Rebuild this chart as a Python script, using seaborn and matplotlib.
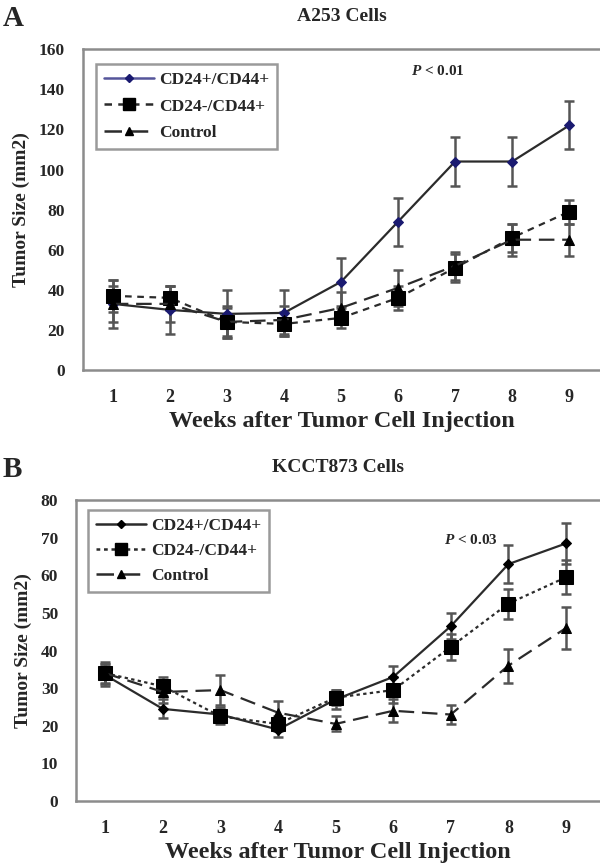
import numpy as np
import pandas as pd
import matplotlib
matplotlib.use("Agg")
import matplotlib.pyplot as plt
from matplotlib.lines import Line2D
import seaborn as sns

# Data
weeks = [1, 2, 3, 4, 5, 6, 7, 8, 9]
groups = ["CD24+/CD44+", "CD24-/CD44+", "Control"]

a253_pos = [33, 30, 28, 28.5, 44, 74, 104, 104, 122]
a253_pos_err = [12, 12, 12, 11.5, 12, 12, 12, 12, 12]
a253_neg = [37, 36, 24, 23, 26, 36, 51, 66, 79]
a253_neg_err = [8, 6, 7, 6, 5, 6, 7, 7, 6]
a253_ctrl = [33, 33, 24, 25, 31, 41, 52, 65, 65]
a253_ctrl_err = [9, 9, 8, 7, 8, 9, 7, 8, 8]

kcct_pos = [33.5, 24.5, 23, 19, 27, 33, 46.5, 63, 68.5]
kcct_pos_err = [3, 2.5, 2, 2, 2.5, 3, 3.5, 5, 5.5]
kcct_neg = [34, 30.5, 22.5, 20.5, 27.5, 29.5, 41, 52.5, 59.5]
kcct_neg_err = [2.5, 2.5, 2, 2, 2, 3.5, 3.5, 4, 4.5]
kcct_ctrl = [34, 29, 29.5, 23.5, 20.5, 24, 23, 36, 46]
kcct_ctrl_err = [3, 3, 4, 3, 2, 3, 2.5, 4.5, 5.5]

sns.set_style("white")
plt.rcParams["font.family"] = ["Liberation Serif", "DejaVu Serif"]
plt.rcParams["font.weight"] = "bold"
plt.rcParams["mathtext.fontset"] = "custom"
plt.rcParams["mathtext.it"] = "Liberation Serif:italic:bold"
plt.rcParams["mathtext.rm"] = "Liberation Serif:bold"

GRAY = "#8c8c8c"
MARKERS = {"CD24+/CD44+": "D", "CD24-/CD44+": "s", "Control": "^"}
MSIZES = {"CD24+/CD44+": 5, "CD24-/CD44+": 9.5, "Control": 7}


def draw_panel(ax, series, errs, dashes, pos_color, legend_line, ymax, ystep,
               xlim, title, pval, ptxt_xy, leg_anchor, leg_space):
    df = pd.DataFrame({
        "Week": weeks * 3,
        "Size": series[0] + series[1] + series[2],
        "Group": [g for g in groups for _ in weeks],
    })
    mcolors = {"CD24+/CD44+": pos_color, "CD24-/CD44+": "black", "Control": "black"}

    for g, vals, err in zip(groups, series, errs):
        ax.errorbar(weeks, vals, yerr=err, fmt="none", ecolor="#555555",
                    elinewidth=1.8, capsize=3.5, capthick=1.8, zorder=2)
        sub = df[df["Group"] == g]
        sns.lineplot(data=sub, x="Week", y="Size", ax=ax, color="#2b2b2b",
                     linewidth=1.6, marker=MARKERS[g], markersize=MSIZES[g],
                     markerfacecolor=mcolors[g], markeredgecolor=mcolors[g],
                     legend=False, zorder=3)
        if dashes[g] is not None:
            ax.lines[-1].set_dashes(dashes[g])

    handles = []
    for g in groups:
        h = Line2D([], [], color=legend_line if g == groups[0] else "#2b2b2b",
                   linewidth=1.8, marker=MARKERS[g], markersize=MSIZES[g] * 0.85,
                   markerfacecolor=mcolors[g], markeredgecolor=mcolors[g])
        if dashes[g] is not None:
            h.set_dashes(dashes[g])
        handles.append(h)
    leg = ax.legend(handles=handles, labels=groups, loc="upper left",
                    bbox_to_anchor=leg_anchor, frameon=True, fancybox=False,
                    framealpha=1, edgecolor="#9a9a9a",
                    handlelength=2.9, handletextpad=0.3, borderpad=0.45,
                    labelspacing=leg_space, borderaxespad=0,
                    prop={"weight": "bold", "size": 12.5})
    leg.get_frame().set_linewidth(1.8)

    ax.set_xlim(*xlim)
    ax.set_ylim(0, ymax)
    ax.set_yticks(np.arange(0, ymax + 1, ystep))
    ax.set_xticks(weeks)
    ax.set_xticks(np.arange(0.5, 10, 1), minor=True)
    ax.tick_params(axis="x", which="major", length=0, labelsize=13, pad=14)
    ax.tick_params(axis="x", which="minor", length=4, width=1.2, color=GRAY, direction="out")
    ax.tick_params(axis="y", length=4, width=1.2, color=GRAY, direction="out", labelsize=12.5, pad=9)
    for lab in ax.get_xticklabels() + ax.get_yticklabels():
        lab.set_fontweight("bold")

    ax.set_xlabel("Weeks after Tumor Cell Injection", fontsize=17.5, fontweight="bold", labelpad=3)
    ax.set_ylabel("Tumor Size (mm2)", fontsize=14, fontweight="bold", labelpad=6)
    ax.set_title(title, fontsize=14, fontweight="bold", pad=20)

    for s in ["left", "bottom", "top"]:
        ax.spines[s].set_color(GRAY)
        ax.spines[s].set_linewidth(1.8)
    ax.spines["right"].set_visible(False)

    ax.text(ptxt_xy[0], ptxt_xy[1], pval, ha="center", va="center", fontsize=11, fontweight="bold")


fig = plt.figure(figsize=(6, 8.67), dpi=100)
ax_a = fig.add_axes([0.138, 0.5732, 0.862, 0.370])
ax_b = fig.add_axes([0.127, 0.0761, 0.873, 0.347])

draw_panel(ax_a, [a253_pos, a253_neg, a253_ctrl],
           [a253_pos_err, a253_neg_err, a253_ctrl_err],
           {"CD24+/CD44+": None, "CD24-/CD44+": (3, 2.5), "Control": (7, 3.5)},
           "#1a1a70", "#55559a", 160, 20, (0.474, 9.54), "A253 Cells",
           r"$P$ < 0.01", (6.7, 149), (0.025, 0.955), 0.62)
draw_panel(ax_b, [kcct_pos, kcct_neg, kcct_ctrl],
           [kcct_pos_err, kcct_neg_err, kcct_ctrl_err],
           {"CD24+/CD44+": None, "CD24-/CD44+": (1.5, 1.5), "Control": (7, 3.5)},
           "black", "#2b2b2b", 80, 10, (0.497, 9.59), "KCCT873 Cells",
           r"$P$ < 0.03", (7.35, 69.5), (0.022, 0.967), 0.5)

fig.text(0.005, 0.979, "A", fontsize=21, fontweight="bold", va="center")
fig.text(0.005, 0.458, "B", fontsize=21, fontweight="bold", va="center")

fig.savefig("out.png", dpi=100)
